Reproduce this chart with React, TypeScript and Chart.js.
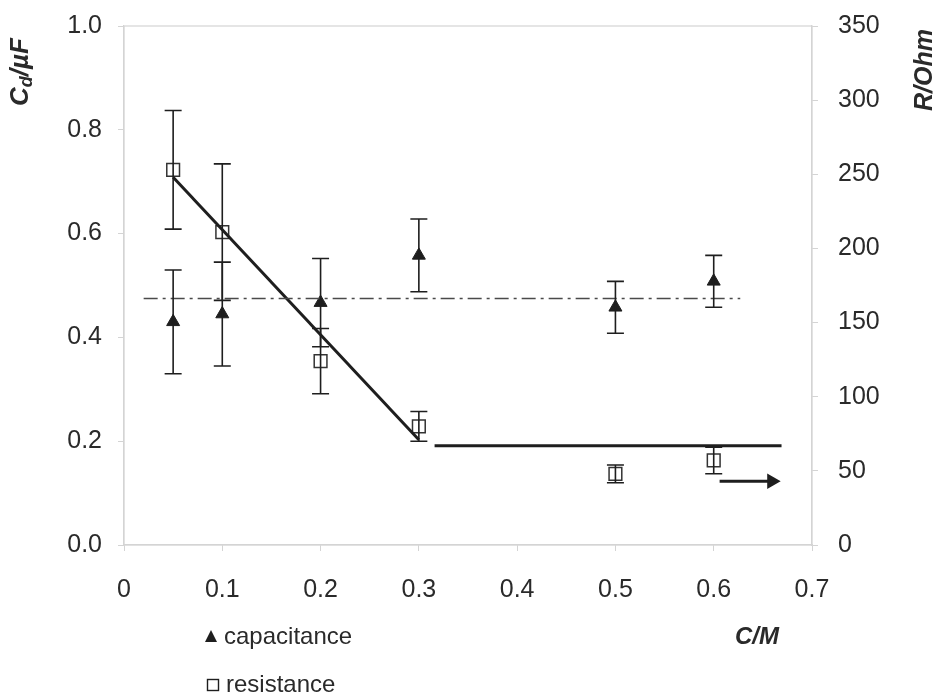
import React, { useEffect, useRef } from "react";
import { Chart, registerables } from "chart.js";

Chart.register(...registerables);

// Concentration C/M
const concentrations = [0.05, 0.1, 0.2, 0.3, 0.5, 0.6];
// Double-layer capacitance, µF, and its error
const capacitance = [0.43, 0.445, 0.467, 0.558, 0.458, 0.508];
const capacitanceErr = [0.1, 0.1, 0.085, 0.07, 0.05, 0.05];
// Resistance, Ohm, and its error
const resistance = [253, 211, 124, 80, 48, 57];
const resistanceErr = [40, 46, 22, 10, 6, 9];

// Mean capacitance guide line (dash-dot)
const meanLineX = [0.02, 0.627];
const meanLineY = [0.475, 0.475];
// Linear resistance trend, then plateau
const trendX = [0.05, 0.3];
const trendY = [248, 71];
const plateauX = [0.316, 0.669];
const plateauY = [67, 67];
// Arrow pointing to the right-hand axis
const arrowX = [0.606, 0.659];
const arrowY = [43, 43];

const ink = "#1e1e1e";
const axisGrey = "#d4d4d4";
const textColor = "#2a2a2a";
const sans = "'Liberation Sans', Arial, sans-serif";

const pts = (xs: number[], ys: number[]) => xs.map((x, i) => ({ x, y: ys[i] }));

const errorBarPlugin = {
  id: "errorBars",
  afterDatasetsDraw(chart: any) {
    const ctx = chart.ctx;
    const xs = chart.scales.x;
    ctx.save();
    ctx.strokeStyle = ink;
    ctx.lineWidth = 1.6;
    chart.data.datasets.forEach((ds: any) => {
      if (!ds.errors) return;
      const ys = chart.scales[ds.yAxisID];
      ds.data.forEach((p: any, i: number) => {
        const e = ds.errors[i];
        const px = xs.getPixelForValue(p.x);
        const top = ys.getPixelForValue(p.y + e);
        const bot = ys.getPixelForValue(p.y - e);
        const cap = 8.5;
        ctx.beginPath();
        ctx.moveTo(px, top);
        ctx.lineTo(px, bot);
        ctx.moveTo(px - cap, top);
        ctx.lineTo(px + cap, top);
        ctx.moveTo(px - cap, bot);
        ctx.lineTo(px + cap, bot);
        ctx.stroke();
      });
    });
    ctx.restore();
  },
};

const decorPlugin = {
  id: "decor",
  beforeDatasetsDraw(chart: any) {
    const { ctx, chartArea } = chart;
    ctx.save();
    ctx.strokeStyle = axisGrey;
    ctx.lineWidth = 1.2;
    ctx.strokeRect(chartArea.left, chartArea.top, chartArea.right - chartArea.left, chartArea.bottom - chartArea.top);
    ctx.restore();
  },
  afterDraw(chart: any) {
    const ctx = chart.ctx;
    ctx.save();
    ctx.fillStyle = textColor;
    ctx.textBaseline = "middle";

    // Left axis title: C_d/µF (rotated)
    ctx.save();
    ctx.translate(21, 106);
    ctx.rotate(-Math.PI / 2);
    ctx.textAlign = "left";
    ctx.font = `italic bold 26px ${sans}`;
    ctx.fillText("C", 0, 0);
    let w = ctx.measureText("C").width;
    ctx.font = `italic bold 18px ${sans}`;
    ctx.fillText("d", w, 6);
    w += ctx.measureText("d").width;
    ctx.font = `italic bold 26px ${sans}`;
    ctx.fillText("/\u00b5F", w, 0);
    ctx.restore();

    // Right axis title
    ctx.save();
    ctx.translate(925, 111);
    ctx.rotate(-Math.PI / 2);
    ctx.textAlign = "left";
    ctx.font = `italic bold 25px ${sans}`;
    ctx.fillText("R/Ohm", 0, 0);
    ctx.restore();

    // x axis title
    ctx.textAlign = "center";
    ctx.font = `italic bold 24px ${sans}`;
    ctx.fillText("C/M", 757, 637);

    // Legend
    ctx.textAlign = "left";
    ctx.font = `24px ${sans}`;
    ctx.fillStyle = ink;
    ctx.beginPath();
    ctx.moveTo(211, 630);
    ctx.lineTo(217, 642);
    ctx.lineTo(205, 642);
    ctx.closePath();
    ctx.fill();
    ctx.fillStyle = textColor;
    ctx.fillText("capacitance", 224, 637);

    ctx.strokeStyle = ink;
    ctx.lineWidth = 1.4;
    ctx.strokeRect(207.5, 679.5, 11, 11);
    ctx.fillText("resistance", 226, 685);
    ctx.restore();
  },
};

export default function App() {
  const canvasRef = useRef<HTMLCanvasElement | null>(null);

  useEffect(() => {
    if (!canvasRef.current) return;
    const tickFont = { family: sans, size: 25 };
    const noPad = (s: any) => {
      s.paddingTop = 0;
      s.paddingBottom = 0;
      s.paddingLeft = 0;
      s.paddingRight = 0;
    };
    const chart = new Chart(canvasRef.current, {
      type: "scatter",
      data: {
        datasets: [
          {
            label: "mean capacitance",
            type: "line",
            data: pts(meanLineX, meanLineY),
            yAxisID: "y",
            borderColor: "#4a4a4a",
            borderWidth: 1.6,
            borderDash: [14, 5, 3, 5],
            pointRadius: 0,
            fill: false,
          },
          {
            label: "resistance trend",
            type: "line",
            data: pts(trendX, trendY),
            yAxisID: "y1",
            borderColor: ink,
            borderWidth: 3,
            pointRadius: 0,
            fill: false,
          },
          {
            label: "resistance plateau",
            type: "line",
            data: pts(plateauX, plateauY),
            yAxisID: "y1",
            borderColor: ink,
            borderWidth: 3,
            pointRadius: 0,
            fill: false,
          },
          {
            label: "arrow",
            type: "line",
            data: pts(arrowX, arrowY),
            yAxisID: "y1",
            borderColor: ink,
            borderWidth: 3,
            pointRadius: [0, 6],
            pointStyle: "triangle",
            rotation: 90,
            pointBackgroundColor: ink,
            pointBorderColor: ink,
            fill: false,
          },
          {
            label: "capacitance",
            data: pts(concentrations, capacitance),
            errors: capacitanceErr,
            yAxisID: "y",
            pointStyle: "triangle",
            pointRadius: 7.5,
            pointBackgroundColor: ink,
            pointBorderColor: ink,
            pointBorderWidth: 1,
          } as any,
          {
            label: "resistance",
            data: pts(concentrations, resistance),
            errors: resistanceErr,
            yAxisID: "y1",
            pointStyle: "rect",
            pointRadius: 9,
            pointBackgroundColor: "rgba(0,0,0,0)",
            pointBorderColor: "#333",
            pointBorderWidth: 1.5,
          } as any,
        ],
      },
      options: {
        responsive: false,
        animation: false,
        layout: { padding: { top: 26, left: 0, right: 0, bottom: 0 } },
        plugins: {
          legend: { display: false },
          tooltip: { enabled: false },
          title: { display: false },
        },
        scales: {
          x: {
            type: "linear",
            min: 0,
            max: 0.7,
            grid: { drawOnChartArea: false, drawTicks: true, tickLength: 6, color: axisGrey },
            border: { display: true, color: axisGrey, width: 1.2 },
            ticks: {
              stepSize: 0.1,
              padding: 24,
              color: textColor,
              font: tickFont,
              maxRotation: 0,
              callback: (v: any) => (Number(v) === 0 ? "0" : Number(v).toFixed(1)),
            },
            afterFit: (s: any) => {
              s.height = 151;
              noPad(s);
            },
          },
          y: {
            type: "linear",
            position: "left",
            min: 0,
            max: 1,
            grid: { drawOnChartArea: false, drawTicks: true, tickLength: 6, color: axisGrey },
            border: { display: true, color: axisGrey, width: 1.2 },
            ticks: {
              stepSize: 0.2,
              padding: 16,
              color: textColor,
              font: tickFont,
              callback: (v: any) => Number(v).toFixed(1),
            },
            afterFit: (s: any) => {
              s.width = 124;
              noPad(s);
            },
          },
          y1: {
            type: "linear",
            position: "right",
            min: 0,
            max: 350,
            grid: { drawOnChartArea: false, drawTicks: true, tickLength: 6, color: axisGrey },
            border: { display: true, color: axisGrey, width: 1.2 },
            ticks: {
              stepSize: 50,
              padding: 20,
              color: textColor,
              font: tickFont,
            },
            afterFit: (s: any) => {
              s.width = 131;
              noPad(s);
            },
          },
        },
      } as any,
      plugins: [errorBarPlugin, decorPlugin],
    });
    return () => chart.destroy();
  }, []);

  return (
    <div style={{ position: "absolute", left: 0, top: 0, width: 943, height: 696, background: "#fff" }}>
      <canvas ref={canvasRef} width={943} height={696} style={{ display: "block" }} />
    </div>
  );
}
